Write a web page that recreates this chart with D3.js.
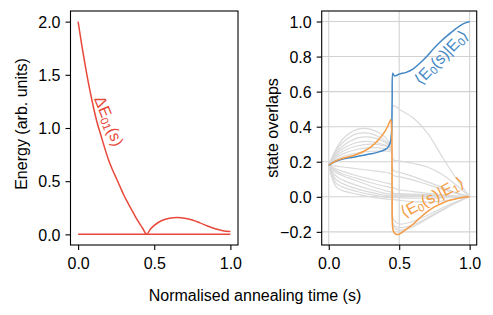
<!DOCTYPE html>
<html>
<head>
<meta charset="utf-8">
<script src="https://cdn.jsdelivr.net/npm/d3@7"></script>
<style>
  body { margin: 0; background: #fff; }
  svg text { font-family: "Liberation Sans", Arial, sans-serif; }
</style>
</head>
<body>
<div class="chart"></div>
<script>
// energy gap between ground and first excited state
var gapS = [0, 0.025, 0.05, 0.075, 0.1, 0.125, 0.15, 0.175, 0.2, 0.225, 0.25, 0.275, 0.3, 0.325, 0.35, 0.375, 0.4, 0.425, 0.45,
            0.475, 0.5, 0.55, 0.6, 0.65, 0.7, 0.75, 0.8, 0.85, 0.9, 0.95, 1.0];
var gapE = [2.00, 1.77, 1.56, 1.37, 1.20, 1.05, 0.93, 0.81, 0.70, 0.61, 0.53, 0.45, 0.37, 0.30, 0.235, 0.17, 0.11, 0.055, 0.0,
            0.05, 0.085, 0.13, 0.152, 0.158, 0.152, 0.135, 0.108, 0.078, 0.052, 0.035, 0.027];
var baseS = [0, 1];
var baseE = [0, 0];

// <E0(s)|E0>
var blueS = [0, 0.05, 0.1, 0.15, 0.2, 0.25, 0.3, 0.35, 0.4, 0.42, 0.435, 0.445, 0.45, 0.455, 0.465, 0.48, 0.5,
             0.55, 0.6, 0.65, 0.7, 0.75, 0.8, 0.85, 0.9, 0.95, 1.0];
var blueV = [0.18, 0.203, 0.215, 0.223, 0.23, 0.237, 0.245, 0.255, 0.27, 0.282, 0.305, 0.36, 0.55, 0.705, 0.69, 0.692, 0.70,
             0.71, 0.73, 0.765, 0.805, 0.85, 0.89, 0.925, 0.958, 0.985, 1.0];

// <E0(s)|E1>
var orangeS = [0, 0.05, 0.1, 0.15, 0.2, 0.25, 0.3, 0.35, 0.4, 0.42, 0.44, 0.446, 0.45, 0.455, 0.465, 0.48, 0.5,
               0.55, 0.6, 0.65, 0.7, 0.75, 0.8, 0.85, 0.9, 0.95, 1.0];
var orangeV = [0.18, 0.205, 0.22, 0.23, 0.243, 0.26, 0.285, 0.322, 0.375, 0.405, 0.44, 0.40, 0.0, -0.185, -0.205, -0.215, -0.213,
               -0.185, -0.155, -0.118, -0.085, -0.058, -0.038, -0.022, -0.012, -0.004, 0];

// other overlaps (grey)
var greyS = [0, 0.05, 0.1, 0.2, 0.3, 0.4, 0.43, 0.445, 0.46, 0.5, 0.6, 0.7, 0.8, 0.9, 1.0];
var greyV = [
  [0.18, 0.27, 0.33, 0.385, 0.385, 0.34, 0.31, 0.30, 0.52, 0.50, 0.45, 0.365, 0.235, 0.11, 0],
  [0.18, 0.26, 0.31, 0.36, 0.36, 0.32, 0.30, 0.29, 0.21, 0.205, 0.19, 0.17, 0.13, 0.07, 0],
  [0.18, 0.25, 0.29, 0.335, 0.34, 0.31, 0.29, 0.28, -0.16, -0.175, -0.16, -0.12, -0.075, -0.035, 0],
  [0.18, 0.24, 0.275, 0.31, 0.315, 0.295, 0.285, 0.275, -0.13, -0.155, -0.14, -0.105, -0.065, -0.03, 0],
  [0.18, 0.23, 0.26, 0.29, 0.30, 0.29, 0.28, 0.27, 0.15, 0.14, 0.115, 0.085, 0.055, 0.025, 0],
  [0.18, 0.22, 0.245, 0.27, 0.28, 0.275, 0.27, 0.26, 0.02, 0.015, 0.01, 0.006, 0.003, 0.001, 0],
  [0.18, 0.21, 0.23, 0.25, 0.26, 0.26, 0.26, 0.25, 0.005, 0.004, 0.003, 0.002, 0.001, 0, 0],
  [0.18, 0.175, 0.17, 0.16, 0.15, 0.14, 0.135, 0.13, 0.12, 0.115, 0.095, 0.07, 0.045, 0.02, 0],
  [0.18, 0.16, 0.145, 0.12, 0.10, 0.08, 0.075, 0.07, 0.05, 0.04, 0.03, 0.02, 0.012, 0.005, 0],
  [0.18, 0.14, 0.12, 0.09, 0.06, 0.035, 0.03, 0.025, 0.02, 0.018, 0.015, 0.012, 0.008, 0.004, 0],
  [0.18, 0.12, 0.095, 0.065, 0.04, 0.02, 0.015, 0.012, 0.01, 0.01, 0.009, 0.007, 0.005, 0.002, 0],
  [0.18, 0.10, 0.075, 0.045, 0.025, 0.008, 0.005, 0.004, 0.004, 0.004, 0.003, 0.002, 0.001, 0, 0],
  [0.18, 0.08, 0.055, 0.03, 0.012, -0.002, -0.004, -0.005, -0.005, -0.006, -0.008, -0.008, -0.006, -0.003, 0],
  [0.18, 0.06, 0.035, 0.015, 0.0, -0.012, -0.014, -0.015, -0.016, -0.02, -0.028, -0.03, -0.025, -0.012, 0],
  [0.18, 0.15, 0.13, 0.105, 0.08, 0.06, 0.055, 0.05, -0.17, -0.19, -0.17, -0.125, -0.08, -0.035, 0]
];

var xTicks = [0, 0.5, 1.0];
var energyTicks = [0, 0.5, 1.0, 1.5, 2.0];
var overlapTicks = [-0.2, 0, 0.2, 0.4, 0.6, 0.8, 1.0];

var RED = "#e8483a", BLUE = "#4287c4", ORANGE = "#f59c45", GREY = "#dadada";
var FS = 16;

var w = 493, h = 315;
var svg = d3.select(".chart").append("svg").attr("width", w).attr("height", h);

function zip(xs, ys) { return xs.map(function(x, i) { return [x, ys[i]]; }); }

function drawAxes(g, x, y, yTicks, grid) {
  var x0 = x.range()[0], x1 = x.range()[1], y0 = y.range()[0], y1 = y.range()[1];
  if (grid) {
    g.selectAll(".gx").data(xTicks).enter().append("line")
      .attr("x1", x).attr("x2", x).attr("y1", y0).attr("y2", y1)
      .attr("stroke", "#d2d2d2").attr("stroke-width", 1.1);
    g.selectAll(".gy").data(yTicks).enter().append("line")
      .attr("x1", x0).attr("x2", x1).attr("y1", y).attr("y2", y)
      .attr("stroke", "#d2d2d2").attr("stroke-width", 1.1);
  }
  var ax = g.append("g").attr("transform", "translate(0," + y0 + ")")
    .call(d3.axisBottom(x).tickValues(xTicks).tickFormat(d3.format(".1f")).tickSize(5));
  var ay = g.append("g").attr("transform", "translate(" + x0 + ",0)")
    .call(d3.axisLeft(y).tickValues(yTicks).tickFormat(d3.format(".1f")).tickSize(5).tickPadding(5));
  [ax, ay].forEach(function(a) {
    a.select(".domain").remove();
    a.selectAll("line").attr("stroke", "#000").attr("stroke-width", 1.1);
    a.selectAll("text").attr("font-size", FS).attr("fill", "#000").attr("font-family", null);
  });
  ax.selectAll("text").attr("y", 24).attr("dy", null);
  ay.selectAll("text").attr("dy", "0.36em");
}

function frame(g, x, y) {
  g.append("rect")
    .attr("x", x.range()[0]).attr("y", y.range()[1])
    .attr("width", x.range()[1] - x.range()[0]).attr("height", y.range()[0] - y.range()[1])
    .attr("fill", "none").attr("stroke", "#000").attr("stroke-width", 1.1);
}

// ---- left panel: energy ----
var xL = d3.scaleLinear().domain([-0.05, 1.05]).range([70.5, 238]);
var yL = d3.scaleLinear().domain([-0.1, 2.1]).range([245, 11]);
var gL = svg.append("g");
drawAxes(gL, xL, yL, energyTicks, false);

var lineL = d3.line().x(function(d) { return xL(d[0]); }).y(function(d) { return yL(d[1]); })
  .curve(d3.curveCatmullRom.alpha(0.5));
gL.append("path").datum(zip(baseS, baseE)).attr("d", lineL)
  .attr("fill", "none").attr("stroke", RED).attr("stroke-width", 1.5);
gL.append("path").datum(zip(gapS, gapE)).attr("d", lineL)
  .attr("fill", "none").attr("stroke", RED).attr("stroke-width", 1.5);
frame(gL, xL, yL);

var tE = gL.append("text").attr("transform", "translate(109,121) rotate(68)")
  .attr("text-anchor", "middle").attr("dy", "0.35em").attr("fill", RED).attr("font-size", FS);
tE.append("tspan").text("ΔE");
tE.append("tspan").attr("font-size", FS * 0.7).attr("dy", 2.5).text("01");
tE.append("tspan").attr("dy", -2.5).text("(s)");

gL.append("text").attr("transform", "translate(21,124) rotate(-90)")
  .attr("text-anchor", "middle").attr("dy", "0.35em").attr("font-size", FS).attr("fill", "#000")
  .text("Energy (arb. units)");

// ---- right panel: overlaps ----
var xR = d3.scaleLinear().domain([-0.05, 1.05]).range([321.7, 476.7]);
var yR = d3.scaleLinear().domain([-0.275, 1.06]).range([245, 11]);
var gR = svg.append("g");
drawAxes(gR, xR, yR, overlapTicks, true);

var lineR = d3.line().x(function(d) { return xR(d[0]); }).y(function(d) { return yR(d[1]); })
  .curve(d3.curveCatmullRom.alpha(0.5));
gR.selectAll(".grey").data(greyV).enter().append("path")
  .attr("d", function(v) { return lineR(zip(greyS, v)); })
  .attr("fill", "none").attr("stroke", GREY).attr("stroke-width", 1.2);
gR.append("path").datum(zip(blueS, blueV)).attr("d", lineR)
  .attr("fill", "none").attr("stroke", BLUE).attr("stroke-width", 1.5);
gR.append("path").datum(zip(orangeS, orangeV)).attr("d", lineR)
  .attr("fill", "none").attr("stroke", ORANGE).attr("stroke-width", 1.5);
frame(gR, xR, yR);

function braket(g, cx, cy, ang, sub, color) {
  var t = g.append("text").attr("transform", "translate(" + cx + "," + cy + ") rotate(" + ang + ")")
    .attr("text-anchor", "middle").attr("dy", "0.35em").attr("fill", color).attr("font-size", FS);
  t.append("tspan").text("⟨E");
  t.append("tspan").attr("font-size", FS * 0.7).attr("dy", 2.5).text("0");
  t.append("tspan").attr("dy", -2.5).text("(s)|E");
  t.append("tspan").attr("font-size", FS * 0.7).attr("dy", 2.5).text(sub);
  t.append("tspan").attr("dy", -2.5).text("⟩");
}
braket(gR, 441, 57, -46, "0", BLUE);
braket(gR, 432, 197, -28, "1", ORANGE);

gR.append("text").attr("transform", "translate(272,128) rotate(-90)")
  .attr("text-anchor", "middle").attr("dy", "0.35em").attr("font-size", FS).attr("fill", "#000")
  .text("state overlaps");

svg.append("text").attr("x", 255).attr("y", 295).attr("dy", "0.35em")
  .attr("text-anchor", "middle").attr("font-size", FS).attr("fill", "#000")
  .text("Normalised annealing time (s)");
</script>
</body>
</html>
